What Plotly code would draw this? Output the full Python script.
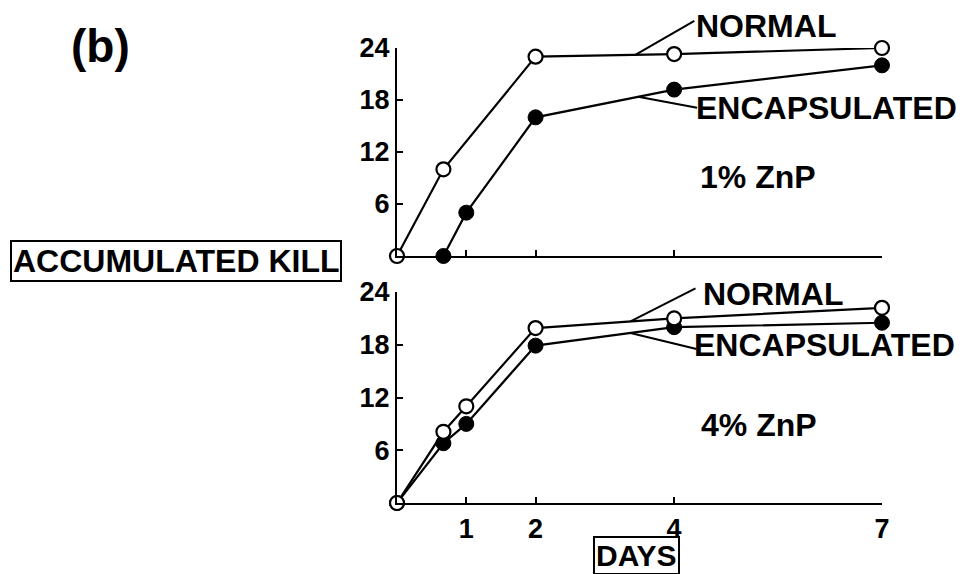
import numpy as np
import plotly.graph_objects as go
from plotly.subplots import make_subplots

# ---- data ----
top_normal_days = [0, 0.67, 2, 4, 7]
top_normal_vals = [0, 10, 23, 23.3, 24]
top_encap_days = [0.67, 1, 2, 4, 7]
top_encap_vals = [0, 5, 16, 19.2, 22]
bot_normal_days = [0, 0.67, 1, 2, 4, 7]
bot_normal_vals = [0, 8.1, 11, 19.9, 21, 22.2]
bot_encap_days = [0, 0.67, 1, 2, 4, 7]
bot_encap_vals = [0, 6.8, 9, 17.9, 20, 20.5]
x_ticks = [1, 2, 4, 7]
x_tick_labels = ["1", "2", "4", "7"]
y_ticks = [6, 12, 18, 24]
y_tick_labels = ["6", "12", "18", "24"]
X_MAX, Y_MAX = 7, 24

FONT = "Liberation Sans, Arial, Helvetica, sans-serif"

W, H = 966, 574
L, R, T, B = 397, 84, 48, 71
PW, PH = W - L - R, H - T - B


def pxp(xp):
    return (xp - L) / PW


def pyp(yp):
    return (H - B - yp) / PH


top_lo = pyp(256)
bot_hi = pyp(292)

fig = make_subplots(rows=2, cols=1, shared_xaxes=False, vertical_spacing=0.05)

open_marker = dict(symbol="circle", size=14, color="white", line=dict(color="black", width=2.2))
fill_marker = dict(symbol="circle", size=15, color="black", line=dict(color="black", width=1))
line_style = dict(color="black", width=2.2)

fig.add_trace(go.Scatter(x=top_encap_days, y=top_encap_vals, mode="lines+markers",
                         line=line_style, marker=fill_marker, cliponaxis=False,
                         name="ENCAPSULATED"), row=1, col=1)
fig.add_trace(go.Scatter(x=top_normal_days, y=top_normal_vals, mode="lines+markers",
                         line=line_style, marker=open_marker, cliponaxis=False,
                         name="NORMAL"), row=1, col=1)
fig.add_trace(go.Scatter(x=bot_encap_days, y=bot_encap_vals, mode="lines+markers",
                         line=line_style, marker=fill_marker, cliponaxis=False,
                         name="ENCAPSULATED"), row=2, col=1)
fig.add_trace(go.Scatter(x=bot_normal_days, y=bot_normal_vals, mode="lines+markers",
                         line=line_style, marker=open_marker, cliponaxis=False,
                         name="NORMAL"), row=2, col=1)

xaxis_common = dict(range=[0, X_MAX], showgrid=False, zeroline=False, showline=True,
                    linecolor="black", linewidth=2.2, ticks="inside", ticklen=6,
                    tickwidth=2, tickcolor="black", tickvals=x_ticks,
                    ticktext=x_tick_labels,
                    tickfont=dict(family=FONT, size=27, color="black", weight="bold"))
yaxis_common = dict(range=[0, Y_MAX], showgrid=False, zeroline=False, showline=True,
                    linecolor="black", linewidth=2.2, ticks="inside", ticklen=6,
                    tickwidth=2, tickcolor="black", tickvals=y_ticks,
                    ticktext=y_tick_labels,
                    tickfont=dict(family=FONT, size=27, color="black", weight="bold"))

fig.update_layout(
    xaxis=dict(xaxis_common, domain=[0, 1], anchor="y", showticklabels=False),
    yaxis=dict(yaxis_common, domain=[top_lo, 1], anchor="x"),
    xaxis2=dict(xaxis_common, domain=[0, 1], anchor="y2"),
    yaxis2=dict(yaxis_common, domain=[0, bot_hi], anchor="x2"),
)


# leader lines: start on the series line, end at a pixel offset (paper refs, not clipped)
def leader(day, xs, ys, y_lo, y_hi, dx, dy):
    v = float(np.interp(day, xs, ys))
    x0 = day / X_MAX
    y0 = y_lo + v / Y_MAX * (y_hi - y_lo)
    return dict(type="line", xref="paper", yref="paper",
                x0=x0, y0=y0, x1=x0 + dx / PW, y1=y0 + dy / PH,
                line=dict(color="black", width=2))


shapes = [
    leader(3.44, top_normal_days, top_normal_vals, top_lo, 1, 59, 34),
    leader(3.48, top_encap_days, top_encap_vals, top_lo, 1, 59, -11),
    leader(3.37, bot_normal_days, bot_normal_vals, 0, bot_hi, 65, 33),
    leader(3.37, bot_encap_days, bot_encap_vals, 0, bot_hi, 66, -16),
]
fig.update_layout(shapes=shapes)


def label(text, xp, yp, size=32, xanchor="left", border=False):
    d = dict(text=text, xref="paper", yref="paper", x=pxp(xp), y=pyp(yp),
             xanchor=xanchor, yanchor="middle", showarrow=False, borderpad=1,
             font=dict(family=FONT, size=size, color="black", weight="bold"))
    if border:
        d.update(bordercolor="black", borderwidth=2)
    return d


annotations = [
    label("(b)", 100, 46, size=46, xanchor="center"),
    label("ACCUMULATED KILL", 176, 261, size=32, xanchor="center", border=True),
    label("NORMAL", 694, 26),
    label("ENCAPSULATED", 694, 108),
    label("1% ZnP", 698, 177, size=32),
    label("NORMAL", 701, 294),
    label("ENCAPSULATED", 692, 345),
    label("4% ZnP", 699, 425, size=32),
    label("DAYS", 636, 555, size=30, xanchor="center", border=True),
]
fig.update_layout(annotations=annotations)

fig.update_layout(
    width=W, height=H,
    margin=dict(l=L, r=R, t=T, b=B, autoexpand=False),
    paper_bgcolor="white", plot_bgcolor="white",
    showlegend=False,
)

fig.write_html(
    "out.html",
    config={"displayModeBar": False},
    post_script="document.body.style.margin='0';document.body.style.overflow='hidden';",
)
